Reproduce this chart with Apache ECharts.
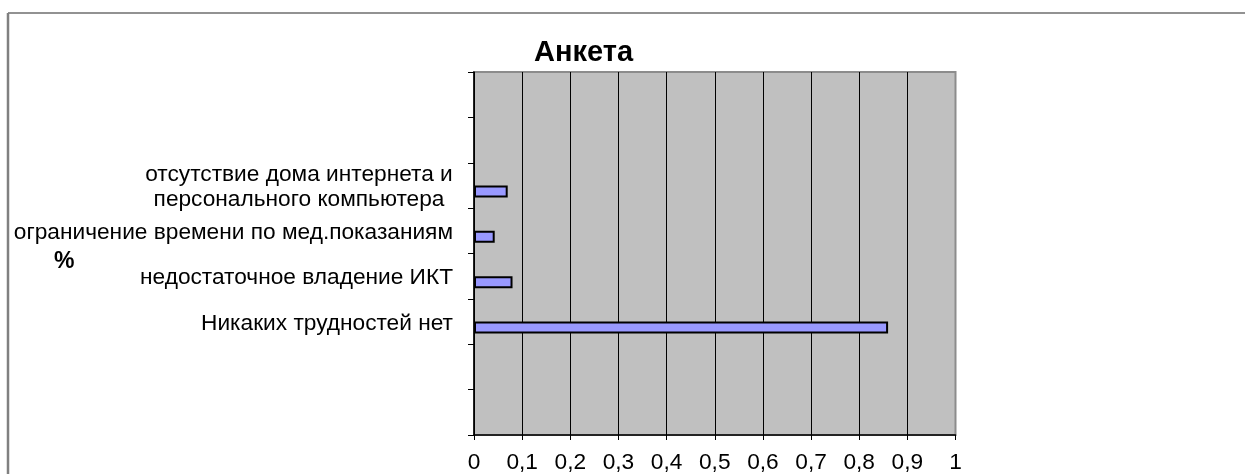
<!DOCTYPE html>
<html>
<head>
<meta charset="utf-8">
<script src="https://cdn.jsdelivr.net/npm/echarts@6/dist/echarts.min.js"></script>
<style>
html,body{margin:0;padding:0;background:#fff;}
#chart{width:1245px;height:474px;}
</style>
</head>
<body>
<div id="chart"></div>
<script>
// Categories listed bottom-to-top (empty slots are blank category rows in the original)
const categories = ['', ' ', 'Никаких трудностей нет', 'недостаточное владение ИКТ', 'ограничение времени по мед.показаниям', 'отсутствие дома интернета и\nперсонального компьютера', '  ', '   '];
const values = [null, null, 0.86, 0.08, 0.043, 0.07, null, null];
const emptySeries = [null, null, null, null, null, null, null, null];
const xTicks = [0, 0.1, 0.2, 0.3, 0.4, 0.5, 0.6, 0.7, 0.8, 0.9, 1];
const chartTitle = 'Анкета';
const axisTitle = '%';

const FONT = "Arial, 'Liberation Sans', sans-serif";
const chart = echarts.init(document.getElementById('chart'), null, {renderer: 'canvas'});

const splitColors = xTicks.map((v, i) => i === xTicks.length - 1 ? '#8c8c8c' : '#000');

chart.setOption({
  animation: false,
  backgroundColor: '#fff',
  title: [{
    text: chartTitle,
    left: 529, top: 33,
    textStyle: {fontFamily: FONT, fontSize: 29, fontWeight: 'bold', color: '#000'}
  }, {
    text: axisTitle,
    left: 49, top: 245,
    textStyle: {fontFamily: FONT, fontSize: 23, fontWeight: 'bold', color: '#000'}
  }],
  graphic: [
    {type: 'line', shape: {x1: 8, y1: 13, x2: 1245, y2: 13}, style: {stroke: '#6e6e6e', lineWidth: 1.5}, silent: true},
    {type: 'line', shape: {x1: 8, y1: 13, x2: 8, y2: 474}, style: {stroke: '#808080', lineWidth: 2.5}, silent: true}
  ],
  grid: {
    left: 474, right: 289.5, top: 72, bottom: 34.7,
    show: true, backgroundColor: '#c0c0c0', borderColor: '#8c8c8c', borderWidth: 2
  },
  xAxis: {
    type: 'value', min: 0, max: 1, interval: 0.1,
    axisLine: {show: true, lineStyle: {color: '#000', width: 1.5}},
    axisTick: {show: true, length: 5, lineStyle: {color: '#000'}},
    splitLine: {show: true, lineStyle: {color: splitColors, width: 1}},
    axisLabel: {
      fontFamily: FONT, fontSize: 22.7, color: '#000', margin: 16,
      formatter: v => String(Math.round(v * 10) / 10).replace('.', ',')
    }
  },
  yAxis: {
    type: 'category', data: categories,
    axisLine: {show: true, lineStyle: {color: '#000', width: 1.5}},
    axisTick: {show: true, length: 6, lineStyle: {color: '#000'}},
    splitLine: {show: false},
    axisLabel: {
      fontFamily: FONT, fontSize: 22.7, color: '#000', margin: 21, lineHeight: 25,
      padding: [4, 0, 0, 0],
      formatter: v => {
        if (v.indexOf('\n') >= 0) {
          return v.split('\n').map(s => '{c|' + s + '}').join('\n');
        }
        return v;
      },
      rich: {c: {fontFamily: FONT, fontSize: 22.7, color: '#000', width: 308, align: 'center', lineHeight: 25}}
    }
  },
  series: [
    {type: 'bar', data: emptySeries, barWidth: 12, barGap: '0%'},
    {type: 'bar', data: values, barWidth: 12, barGap: '0%',
     itemStyle: {color: '#9999ff', borderColor: '#000', borderWidth: 2}}
  ]
});
</script>
</body>
</html>
